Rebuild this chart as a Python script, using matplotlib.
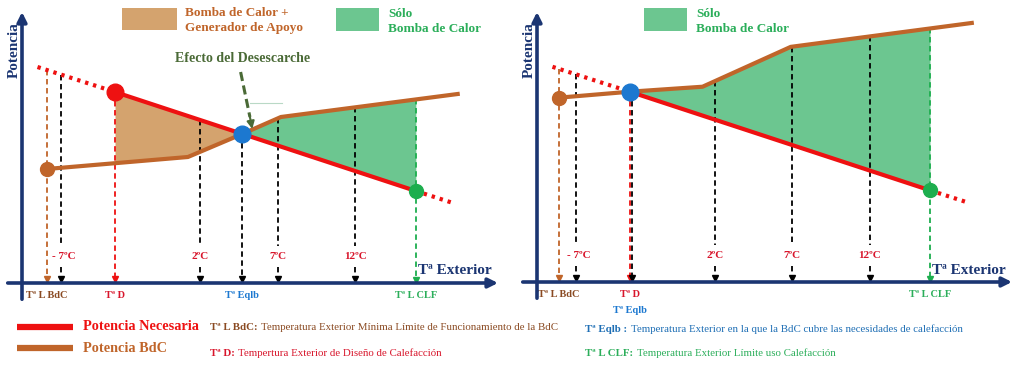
import numpy as np
import matplotlib
matplotlib.use("Agg")
import matplotlib.pyplot as plt
from matplotlib.patches import Rectangle
from matplotlib.lines import Line2D

plt.rcParams['font.family'] = ['Liberation Serif', 'DejaVu Serif']

# ---------------- data ----------------
tick_temps = [-7, 2, 7, 12]
tick_labels = ['- 7ºC', '2ºC', '7ºC', '12ºC']

# required power (same in both panels): dotted ends, solid between T D and T L CLF
demand_T = [-8.5, -3.5, 15.9, 18.3]
demand_P = [21.6, 19.1, 9.2, 8.0]

# heat pump capacity, left panel (low power heat pump)
bdc1_T = [-7.9, 1.2, 4.7, 7.2, 18.6]
bdc1_P = [11.4, 12.6, 14.9, 16.6, 18.9]
# heat pump capacity, right panel (heat pump covering design point)
bdc2_T = [-8.1, -3.5, 1.2, 6.9, 18.6]
bdc2_P = [18.5, 19.1, 19.6, 23.6, 26.0]

T_LBdC = [-7.9, -8.1]
T_D = -3.5
T_Eqlb = [4.7, -3.5]
T_CLF = 15.9

# ---------------- styles ----------------
NAVY = '#1B3572'
RED = '#EE1111'
ORANGE = '#C0652A'
BROWN_FILL = '#D4A36E'
GREEN_FILL = '#6CC690'
BLUE = '#1C78D0'
GREEN = '#1DAE4E'
GREEN_TXT = '#2BAE5A'
TICK_RED = '#D8152B'
BROWN_TXT = '#8A4A22'
EFF_GREEN = '#4A6A36'

W, H = 1024, 366
fig = plt.figure(figsize=(W / 100, H / 100), dpi=100)


def add_panel(x0, x1, y_axis_px, y_top_px):
    return fig.add_axes([x0 / W, (H - y_axis_px) / H, (x1 - x0) / W,
                         (y_axis_px - y_top_px) / H])


def dem(t):
    return np.interp(t, demand_T, demand_P)


def draw_panel(ax, bdc_T, bdc_P, t_lbdc, t_eqlb, left):
    ax.set_xlim(-9.5, 21.2)
    ax.set_ylim(0, 27.1)
    ax.axis('off')
    bd = lambda t: np.interp(t, bdc_T, bdc_P)

    # fills
    if left:
        xs = np.array(sorted(set([T_D, t_eqlb] + [t for t in bdc_T if T_D < t < t_eqlb])))
        ax.fill_between(xs, dem(xs), bd(xs), color=BROWN_FILL, lw=0, zorder=1)
    xs = np.array(sorted(set([t_eqlb, T_CLF] + [t for t in bdc_T + demand_T if t_eqlb < t < T_CLF])))
    ax.fill_between(xs, dem(xs), bd(xs), color=GREEN_FILL, lw=0, zorder=1)

    # dashed guide lines
    gap_lo, gap_hi = 1.6, 3.7

    def vline(t, top, color, gap=False, lw=1.3):
        if gap:
            ax.plot([t, t], [top, gap_hi], ls=(0, (3, 2)), color=color, lw=lw, zorder=2)
            ax.plot([t, t], [gap_lo, 0.35], ls=(0, (3, 2)), color=color, lw=lw, zorder=2)
        else:
            ax.plot([t, t], [top, 0.35], ls=(0, (3, 2)), color=color, lw=lw, zorder=2)
        ax.plot([t], [0.45], marker='v', color=color, ms=5, zorder=2, clip_on=False)

    for t in tick_temps:
        if t == -7:
            top = dem(t)
        elif left and t == 2:
            top = dem(t)
        else:
            top = bd(t)
        vline(t, top, 'black', gap=True)
    vline(t_lbdc, dem(t_lbdc), ORANGE)
    vline(T_D, dem(T_D), RED)
    if left:
        vline(t_eqlb, dem(t_eqlb), 'black')
    else:
        vline(T_D + 0.15, dem(T_D), 'black')
    ax.plot([T_CLF, T_CLF], [bd(T_CLF), 0.35], ls=(0, (3, 2)), color=GREEN, lw=1.3, zorder=2)
    ax.plot([T_CLF], [0.3], marker='v', color=GREEN, ms=4, zorder=2)

    for t, lab in zip(tick_temps, tick_labels):
        dx = 0.2 if t == -7 else 0
        ax.text(t + dx, 2.65, lab, color=TICK_RED, fontsize=8, fontweight='bold',
                ha='center', va='center', zorder=3)

    # lines
    ax.plot(demand_T[1:3], demand_P[1:3], color=RED, lw=3, solid_capstyle='butt', zorder=4)
    ax.plot(demand_T[:2], demand_P[:2], color=RED, lw=3, ls=(0, (0.8, 1.2)), zorder=4)
    ax.plot(demand_T[2:], demand_P[2:], color=RED, lw=3, ls=(0, (0.8, 1.2)), zorder=4)
    ax.plot(bdc_T, bdc_P, color=ORANGE, lw=3, solid_joinstyle='round', zorder=5)

    # dots
    ax.plot([t_lbdc], [bd(t_lbdc)], 'o', color=ORANGE, ms=10, zorder=6)
    if left:
        ax.plot([T_D], [dem(T_D)], 'o', color=RED, ms=12, zorder=6)
    ax.plot([t_eqlb], [dem(t_eqlb)], 'o', color=BLUE, ms=12, zorder=7)
    ax.plot([T_CLF], [dem(T_CLF)], 'o', color=GREEN, ms=10, zorder=6)

    # axes arrows
    ax.annotate('', xy=(1.0, 0), xytext=(-0.03, 0), xycoords='axes fraction',
                arrowprops=dict(arrowstyle='-|>', lw=2.6, color=NAVY, mutation_scale=14,
                                shrinkA=0, shrinkB=0), zorder=8)
    ax.annotate('', xy=(0, 1.0), xytext=(0, -0.06), xycoords='axes fraction',
                arrowprops=dict(arrowstyle='-|>', lw=2.6, color=NAVY, mutation_scale=14,
                                shrinkA=0, shrinkB=0), zorder=8)
    ax.text(20.8, 1.2, 'Tª Exterior', color=NAVY, fontsize=11, fontweight='bold',
            ha='right', va='center', zorder=9)
    ax.text(-0.017, 0.86, 'Potencia', color=NAVY, fontsize=11, fontweight='bold',
            rotation=90, ha='center', va='center', transform=ax.transAxes)

    # labels below the axis
    kw = dict(fontsize=7.5, fontweight='bold', ha='center', va='center')
    ax.text(t_lbdc, -1.25, 'Tª L BdC', color=BROWN_TXT, **kw)
    ax.text(T_D, -1.25, 'Tª D', color=TICK_RED, **kw)
    if left:
        ax.text(t_eqlb, -1.25, 'Tª Eqlb', color=BLUE, **kw)
    else:
        ax.text(T_D, -2.85, 'Tª Eqlb', color=BLUE, **kw)
    ax.text(T_CLF, -1.25, 'Tª L CLF', color=GREEN_TXT, **kw)
    return ax


ax1 = add_panel(22, 498, 283, 12)
draw_panel(ax1, bdc1_T, bdc1_P, T_LBdC[0], T_Eqlb[0], True)
ax2 = add_panel(537, 1012, 282, 12)
draw_panel(ax2, bdc2_T, bdc2_P, T_LBdC[1], T_Eqlb[1], False)

# defrost effect annotation (left panel)
ax1.text(4.7, 22.4, 'Efecto del Desescarche', color=EFF_GREEN, fontsize=10,
         fontweight='bold', ha='center', va='center')
ax1.plot([4.6, 5.2], [21.1, 16.6], ls=(0, (3, 1.5)), color=EFF_GREEN, lw=2.2, zorder=6)
ax1.annotate('', xy=(5.35, 15.4), xytext=(5.2, 16.6),
             arrowprops=dict(arrowstyle='-|>', color=EFF_GREEN, lw=1.5, mutation_scale=11,
                             shrinkA=0, shrinkB=0), zorder=6)
ax1.plot([5.2, 7.3], [18.0, 18.0], color='#b9d9c6', lw=0.8, zorder=1)

# ---------------- overlay for legends ----------------
ov = fig.add_axes([0, 0, 1, 1])
ov.set_xlim(0, W)
ov.set_ylim(H, 0)
ov.axis('off')

ov.add_patch(Rectangle((122, 8), 55, 22, color=BROWN_FILL, lw=0))
ov.add_patch(Rectangle((336, 8), 43, 23, color=GREEN_FILL, lw=0))
ov.add_patch(Rectangle((644, 8), 43, 23, color=GREEN_FILL, lw=0))
lk = dict(fontsize=9.5, fontweight='bold', ha='left', va='center')
ov.text(185, 13, 'Bomba de Calor +', color=ORANGE, **lk)
ov.text(185, 28, 'Generador de Apoyo', color=ORANGE, **lk)
ov.text(388, 14, 'Sólo', color=GREEN_TXT, **lk)
ov.text(388, 29, 'Bomba de Calor', color=GREEN_TXT, **lk)
ov.text(696, 14, 'Sólo', color=GREEN_TXT, **lk)
ov.text(696, 29, 'Bomba de Calor', color=GREEN_TXT, **lk)

ov.add_line(Line2D([17, 73], [327, 327], color=RED, lw=4.5, solid_capstyle='butt'))
ov.add_line(Line2D([17, 73], [348, 348], color=ORANGE, lw=4.5, solid_capstyle='butt'))
ov.text(83, 327, 'Potencia Necesaria', color=RED, fontsize=10.3, fontweight='bold',
        ha='left', va='center')
ov.text(83, 348, 'Potencia BdC', color=ORANGE, fontsize=10.3, fontweight='bold',
        ha='left', va='center')

defs = [
    (210, 328, 'Tª L BdC:', 'Temperatura Exterior Mínima Límite de Funcionamiento de la BdC', BROWN_TXT),
    (210, 353, 'Tª D:', 'Tempertura Exterior de Diseño de Calefacción', TICK_RED),
    (585, 330, 'Tª Eqlb :', 'Temperatura Exterior en la que la BdC cubre las necesidades de calefacción', '#1F6FB5'),
    (585, 353, 'Tª L CLF:', 'Temperatura Exterior Límite uso Calefacción', GREEN_TXT),
]
for x, y, pre, rest, c in defs:
    t = ov.text(x, y, pre, color=c, fontsize=7.8, fontweight='bold', ha='left', va='center')
    ov.annotate(rest, xy=(1, 0), xycoords=t, xytext=(2.5, 0), textcoords='offset points',
                color=c, fontsize=7.8, ha='left', va='bottom')

fig.savefig('out.png', dpi=100, facecolor='white')
